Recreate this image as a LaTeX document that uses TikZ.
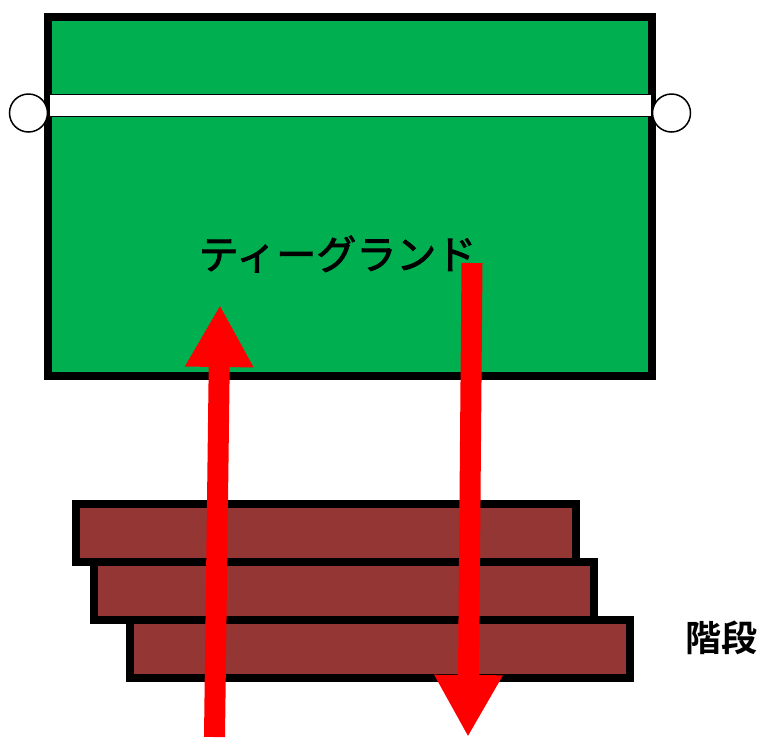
\documentclass[tikz,border=0pt]{standalone}
\usepackage{fontspec}
\newfontfamily\jpfont[FakeBold=2.2]{Noto Sans CJK JP}
\newfontfamily\jpbold{Noto Sans CJK JP Bold}
\usetikzlibrary{arrows.meta}
\definecolor{teegreen}{HTML}{00B050}
\definecolor{stepbrown}{HTML}{943634}
\definecolor{arrowred}{HTML}{FF0000}
\tikzset{
  tee/.style={draw=black, line width=8pt, fill=teegreen},
  band/.style={draw=black, line width=1pt, fill=white},
  post/.style={draw=black, line width=1.5pt, fill=white},
  stepbox/.style={draw=black, line width=8pt, fill=stepbrown},
  bigarrow/.style={draw=arrowred, line width=21pt, -{Triangle[length=62pt, width=64pt]}},
  lbl/.style={inner sep=0pt, anchor=center}
}
\begin{document}
\begin{tikzpicture}[x=1pt, y=-1pt]
\useasboundingbox (0,0) rectangle (760,737);
% tee ground
\draw[tee] (48,17) rectangle (652,376);
\draw[band] (49,94.5) rectangle (651,116.5);
\draw[post] (28.5,113) circle (19);
\draw[post] (671.5,113) circle (19);
\node[lbl, font=\jpfont\fontsize{40}{40}\selectfont] (tee) at (337.5,254) {ティーグランド};
% steps
\draw[stepbox] (76,504) rectangle (576,562);
\draw[stepbox] (94,562) rectangle (594,620);
\draw[stepbox] (130,620) rectangle (630,678);
\node[lbl, font=\jpbold\fontsize{36}{36}\selectfont] (kaidan) at (721,638) {階段};
% arrows
\coordinate (upS) at (214.5,737);
\coordinate (upE) at (220,305);
\coordinate (dnS) at (472,263);
\coordinate (dnE) at (468,737);
\draw[bigarrow] (upS) -- (upE);
\draw[bigarrow] (dnS) -- (dnE);
\end{tikzpicture}
\end{document}
